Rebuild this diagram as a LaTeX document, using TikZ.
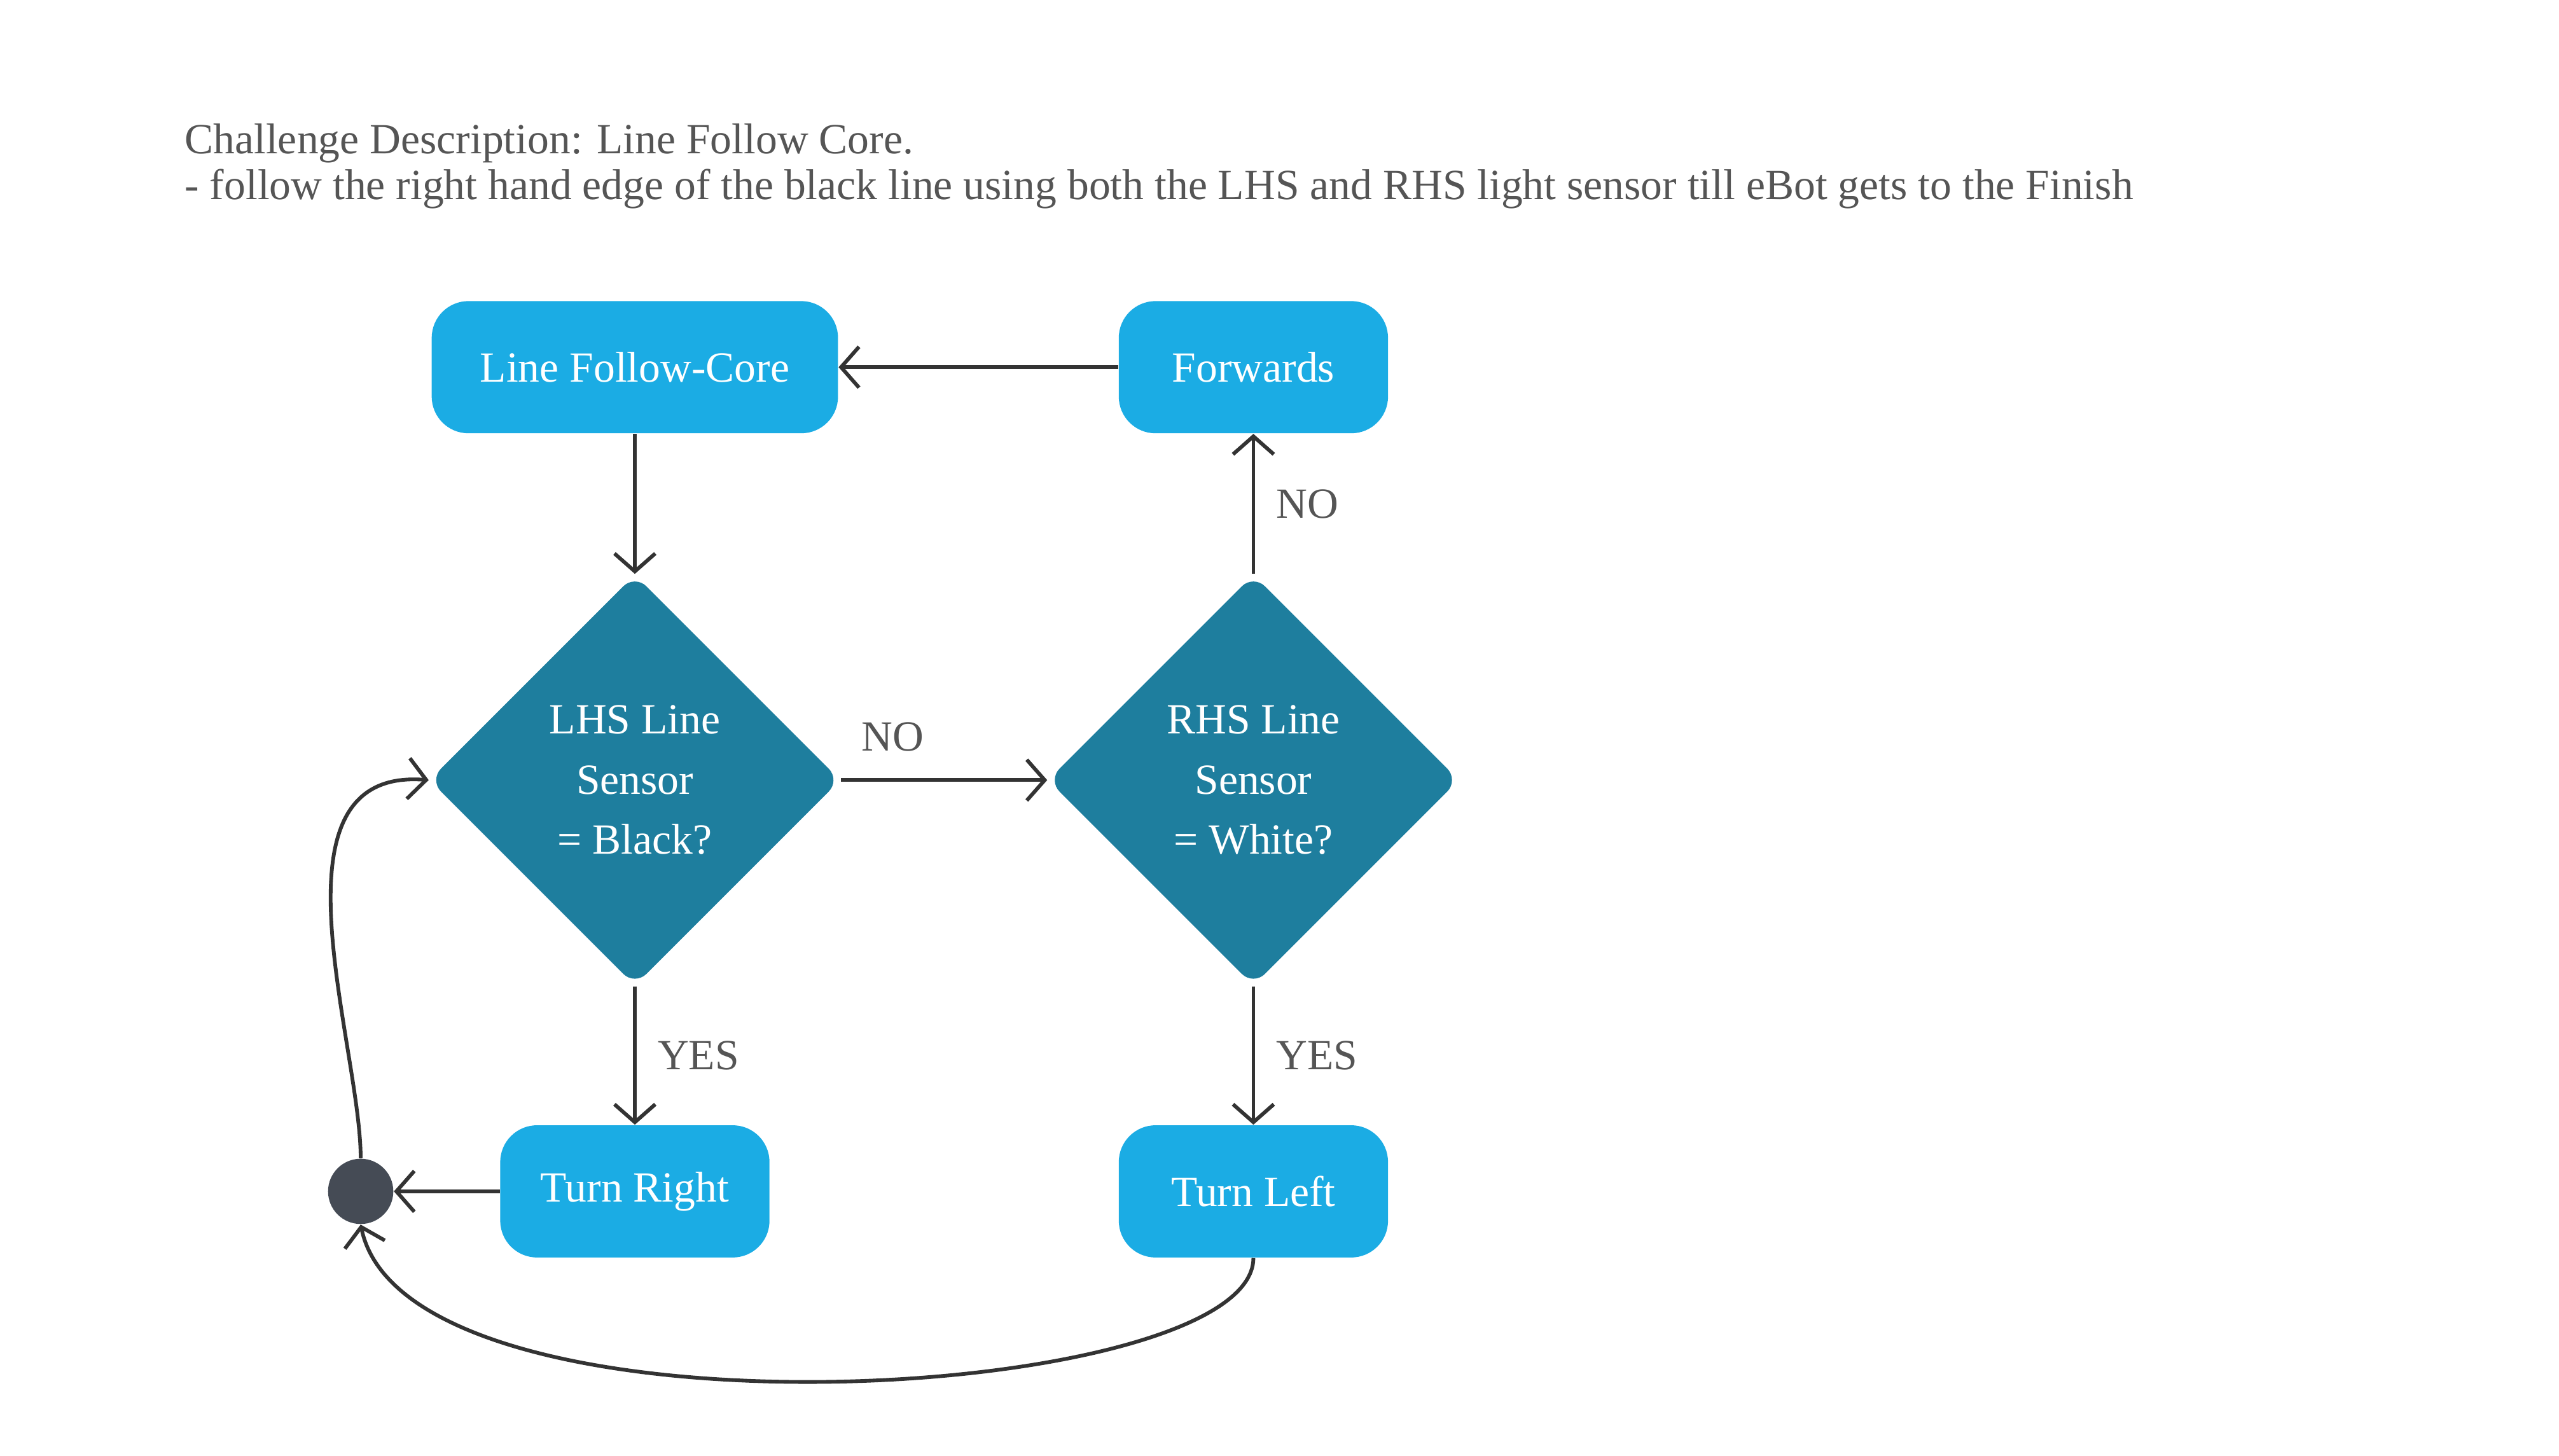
\documentclass[tikz,border=0pt]{standalone}
\usepackage{fontspec}
\setmainfont{Liberation Serif}
\usetikzlibrary{shapes.geometric,arrows.meta,positioning}
\definecolor{boxblue}{HTML}{1BACE4}
\definecolor{diamblue}{HTML}{1E7E9E}
\definecolor{dotgray}{HTML}{454B55}
\definecolor{txtgray}{HTML}{555555}

\tikzset{
  action/.style = {fill = boxblue, rounded corners = 0.45cm, minimum height = 1.62cm, text = white, font = \fontsize{15}{18}\selectfont},
  test/.style = {diamond, fill = diamblue, rounded corners = 0.2cm, minimum width = 5.04cm, minimum height = 5.04cm, text = white, align = center, inner sep = 0pt, font = \fontsize{15}{21}\selectfont},
  flow/.style = {draw = black!80, line width = 1.3pt, -{Straight Barb[length = 0.22cm, width = 0.5cm]}},
  lbl/.style = {text = txtgray, font = \fontsize{15}{18}\selectfont}
}

\begin{document}
\begin{tikzpicture}[x = 0.02cm, y = -0.02cm]
\useasboundingbox (0,0) rectangle (1568,892);
\node[lbl, anchor = west, align = left] (title) at (107,102) {Challenge Description: Line Follow Core.\\[-2pt]- follow the right hand edge of the black line using both the LHS and RHS light sensor till eBot gets to the Finish};

\node[action, minimum width = 4.98cm] (core) at (389,225) {Line Follow-Core};
\node[action, minimum width = 3.3cm] (fwd) at (768,225) {Forwards};
\node[test] (lhs) at (389,478) {LHS Line\\Sensor\\= Black?};
\node[test] (rhs) at (768,478) {RHS Line\\Sensor\\= White?};
\node[action, minimum width = 3.3cm] (right) at (389,730) {Turn Right};
\node[action, minimum width = 3.3cm] (left) at (768,730) {Turn Left};
\node[circle, fill = dotgray, minimum size = 0.8cm, inner sep = 0pt] (join) at (221,730) {};

\draw[flow] (fwd) -- (core);
\draw[flow] (core) -- (lhs);
\draw[flow] (lhs) -- node[lbl, above = 6pt, pos = 0.25] {NO} (rhs);
\draw[flow] (rhs) -- node[lbl, right = 4pt] {NO} (fwd);
\draw[flow] (lhs) -- node[lbl, right = 4pt] {YES} (right);
\draw[flow] (rhs) -- node[lbl, right = 4pt] {YES} (left);
\draw[flow] (right) -- (join);
\draw[flow] (join.north) .. controls (221,640) and (160,470) .. (lhs.west);
\draw[flow] (left.south) .. controls (768,860) and (250,890) .. (join.south);
\end{tikzpicture}
\end{document}
